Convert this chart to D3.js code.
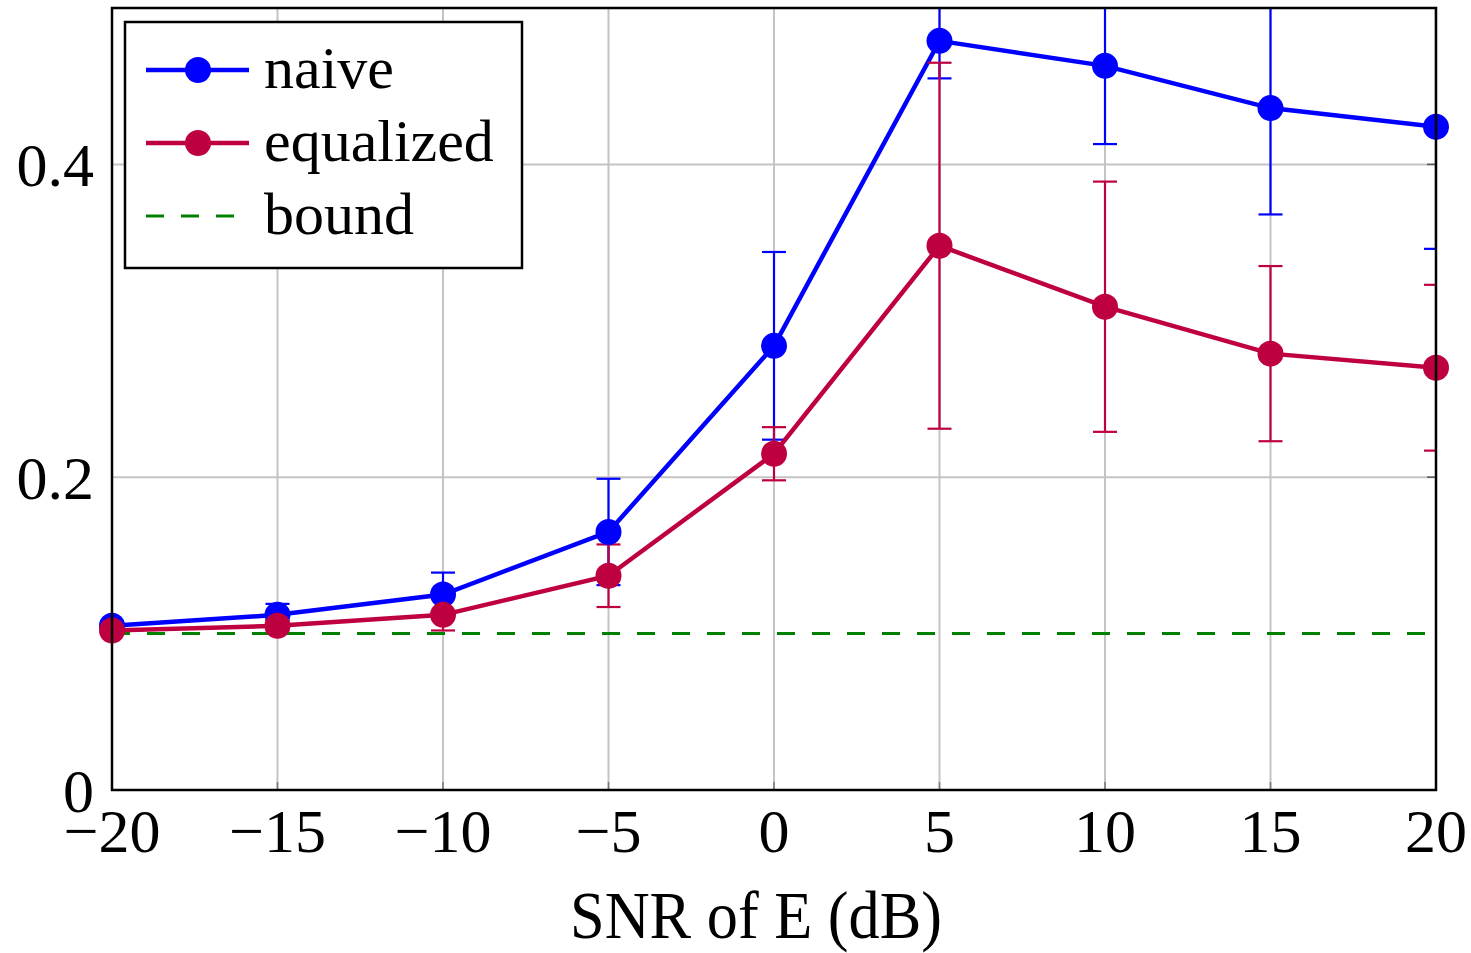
<!DOCTYPE html>
<html>
<head>
<meta charset="utf-8">
<script src="https://cdn.jsdelivr.net/npm/d3@7"></script>
<style>
  body { margin: 0; background: #fff; }
  text { font-family: "Liberation Serif", "DejaVu Serif", serif; fill: #000; }
</style>
</head>
<body>
<svg id="chart" width="1471" height="953"></svg>
<script>
// data
const snr = [-20, -15, -10, -5, 0, 5, 10, 15, 20];
const naive = [0.105, 0.112, 0.125, 0.165, 0.284, 0.479, 0.463, 0.436, 0.424];
const naiveErr = [0.003, 0.007, 0.014, 0.034, 0.06, 0.024, 0.05, 0.068, 0.078];
const equalized = [0.102, 0.105, 0.112, 0.137, 0.215, 0.348, 0.309, 0.279, 0.27];
const equalizedErr = [0.002, 0.003, 0.01, 0.02, 0.017, 0.117, 0.08, 0.056, 0.053];
const bound = 0.1;
const xTicks = [-20, -15, -10, -5, 0, 5, 10, 15, 20];
const yTicks = [0, 0.2, 0.4];
const yTickLabels = ["0", "0.2", "0.4"];

const marginLeft = 112, marginTop = 8, plotW = 1324, plotH = 782;

const svg = d3.select("#chart");
const x = d3.scaleLinear().domain([-20, 20]).range([marginLeft, marginLeft + plotW]);
const y = d3.scaleLinear().domain([0, 0.5]).range([marginTop + plotH, marginTop]);

svg.append("defs").append("clipPath").attr("id", "plotClip")
  .append("rect")
  .attr("x", marginLeft).attr("y", marginTop)
  .attr("width", plotW).attr("height", plotH);

// grid
svg.append("g").selectAll("line").data(xTicks).enter().append("line")
  .attr("x1", (d) => x(d)).attr("x2", (d) => x(d))
  .attr("y1", y(0)).attr("y2", y(0.5))
  .attr("stroke", "#c4c4c4").attr("stroke-width", 2);
svg.append("g").selectAll("line").data(yTicks).enter().append("line")
  .attr("x1", x(-20)).attr("x2", x(20))
  .attr("y1", (d) => y(d)).attr("y2", (d) => y(d))
  .attr("stroke", "#c4c4c4").attr("stroke-width", 2);

// small inward ticks on bottom and right
svg.append("g").selectAll("line").data(xTicks).enter().append("line")
  .attr("x1", (d) => x(d)).attr("x2", (d) => x(d))
  .attr("y1", y(0)).attr("y2", y(0) - 8)
  .attr("stroke", "#777").attr("stroke-width", 1.5);
svg.append("g").selectAll("line").data(yTicks).enter().append("line")
  .attr("x1", x(20)).attr("x2", x(20) - 9)
  .attr("y1", (d) => y(d)).attr("y2", (d) => y(d))
  .attr("stroke", "#555").attr("stroke-width", 1.5);

const plot = svg.append("g").attr("clip-path", "url(#plotClip)");

// bound
plot.append("line")
  .attr("x1", x(-20)).attr("x2", x(20))
  .attr("y1", y(bound)).attr("y2", y(bound))
  .attr("stroke", "#008000").attr("stroke-width", 3)
  .attr("stroke-dasharray", "18,17");

const line = d3.line().x((d) => x(d[0])).y((d) => y(d[1]));

const drawSeries = (vals, errs, color) => {
  const pts = snr.map((s, i) => [s, vals[i], errs[i]]);
  const eb = plot.append("g").attr("stroke", color).attr("stroke-width", 2.2);
  eb.selectAll(".v").data(pts).enter().append("line")
    .attr("x1", (d) => x(d[0])).attr("x2", (d) => x(d[0]))
    .attr("y1", (d) => y(d[1] - d[2])).attr("y2", (d) => y(d[1] + d[2]));
  [-1, 1].forEach((s) => {
    eb.selectAll(".c" + s).data(pts).enter().append("line")
      .attr("x1", (d) => x(d[0]) - 12).attr("x2", (d) => x(d[0]) + 12)
      .attr("y1", (d) => y(d[1] + s * d[2])).attr("y2", (d) => y(d[1] + s * d[2]));
  });
  plot.append("path").datum(pts)
    .attr("d", line).attr("fill", "none")
    .attr("stroke", color).attr("stroke-width", 4.5);
  svg.append("g").selectAll("circle").data(pts).enter().append("circle")
    .attr("cx", (d) => x(d[0])).attr("cy", (d) => y(d[1]))
    .attr("r", 13).attr("fill", color);
};

drawSeries(naive, naiveErr, "#0000ff");
drawSeries(equalized, equalizedErr, "#bf0040");

// frame
svg.append("rect")
  .attr("x", marginLeft).attr("y", marginTop)
  .attr("width", plotW).attr("height", plotH)
  .attr("fill", "none").attr("stroke", "#000").attr("stroke-width", 2.5);

// tick labels
svg.append("g").selectAll("text").data(xTicks).enter().append("text")
  .attr("x", (d) => x(d)).attr("y", 852)
  .attr("text-anchor", "middle").attr("font-size", 62)
  .text((d) => (d < 0 ? "\u2212" + Math.abs(d) : d));
svg.append("g").selectAll("text").data(yTicks).enter().append("text")
  .attr("x", 94).attr("y", (d) => y(d) + 22)
  .attr("text-anchor", "end").attr("font-size", 62)
  .text((d, i) => yTickLabels[i]);

svg.append("text")
  .attr("x", 756).attr("y", 938)
  .attr("text-anchor", "middle").attr("font-size", 68)
  .attr("textLength", 372).attr("lengthAdjust", "spacingAndGlyphs")
  .text("SNR of E (dB)");

// legend
const legend = svg.append("g");
legend.append("rect")
  .attr("x", 125).attr("y", 22).attr("width", 397).attr("height", 246)
  .attr("fill", "#fff").attr("stroke", "#000").attr("stroke-width", 2.5);
const legendItems = [
  { name: "naive", color: "#0000ff", marker: true },
  { name: "equalized", color: "#bf0040", marker: true },
  { name: "bound", color: "#008000", marker: false },
];
legendItems.forEach((it, i) => {
  const ly = 70 + i * 73;
  legend.append("line")
    .attr("x1", 146).attr("x2", it.marker ? 249 : 240)
    .attr("y1", ly).attr("y2", ly)
    .attr("stroke", it.color).attr("stroke-width", it.marker ? 4.5 : 3)
    .attr("stroke-dasharray", it.marker ? null : "18,17");
  if (it.marker) {
    legend.append("circle").attr("cx", 198).attr("cy", ly).attr("r", 13).attr("fill", it.color);
  }
  legend.append("text")
    .attr("x", 264).attr("y", ly + 18)
    .attr("font-size", 60)
    .text(it.name);
});
</script>
</body>
</html>
